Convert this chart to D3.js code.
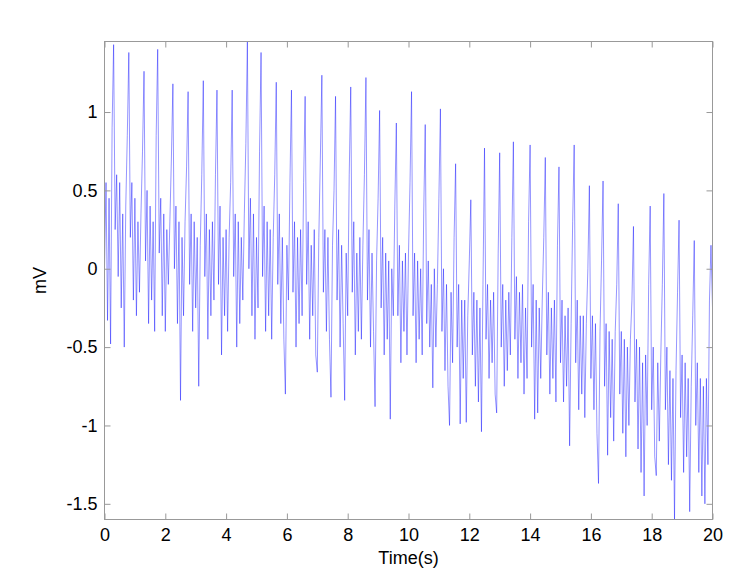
<!DOCTYPE html>
<html>
<head>
<meta charset="utf-8">
<script src="https://cdn.jsdelivr.net/npm/d3@7"></script>
<style>
  html, body { margin: 0; padding: 0; background: #fff; }
  svg { display: block; }
  text { font-family: "Liberation Sans", Arial, Helvetica, sans-serif; }
</style>
</head>
<body>
<div id="chart"></div>
<script>
// ---- data ----
const sampleInterval = 0.05; // seconds between samples
const mV = [
  0.0, 0.55, -0.33, 0.45, -0.48, 0.9, 1.43,
  0.25, 0.6, -0.05, 0.55, -0.25, 0.35, -0.5, 0.4, 0.85,
  1.38, 0.2, 0.55, -0.2, 0.45, -0.3, 0.3, -0.15, 0.35, 0.75,
  1.26, 0.05, 0.5, -0.35, 0.4, -0.2, 0.3, -0.4, 0.85,
  1.40, 0.1, 0.45, -0.3, 0.35, -0.4, 0.25, -0.1, 0.3, 0.7,
  1.18, 0.0, 0.4, -0.35, 0.3, -0.84, 0.2, -0.3, 0.3, 0.65,
  1.13, -0.1, 0.35, -0.4, 0.3, -0.25, 0.2, -0.75, 0.15, 0.6,
  1.20, -0.05, 0.35, -0.45, 0.25, -0.3, 0.3, -0.2, 0.6,
  1.14, -0.1, 0.4, -0.55, 0.2, -0.3, 0.25, -0.4, 0.2, 0.55,
  1.14, -0.05, 0.35, -0.5, 0.3, -0.35, 0.2, -0.2, 0.35, 0.8,
  1.45, 0.0, 0.45, -0.3, 0.35, -0.45, 0.2, -0.25, 0.75,
  1.38, -0.05, 0.4, -0.4, 0.3, -0.3, 0.25, -0.45, 0.2, 0.6,
  1.19, -0.1, 0.35, -0.35, 0.2, -0.45, -0.8, 0.15, -0.2, 0.55,
  1.14, -0.15, 0.3, -0.5, 0.2, -0.35, 0.25, -0.3, 0.55,
  1.10, -0.1, 0.3, -0.45, 0.15, -0.3, 0.25, -0.55, -0.66, 0.2, 0.7,
  1.235, -0.15, 0.25, -0.4, 0.2, -0.45, -0.82, 0.15, 0.5,
  1.10, -0.2, 0.25, -0.5, 0.15, -0.35, -0.84, 0.1, -0.3, 0.6,
  1.16, -0.15, 0.3, -0.55, 0.1, -0.4, 0.2, -0.45, 0.15, 0.6,
  1.22, -0.2, 0.25, -0.5, 0.1, -0.4, -0.88, 0.05, 0.45,
  1.01, -0.25, 0.2, -0.55, 0.1, -0.45, 0.05, -0.96, 0.0, -0.3, 0.4,
  0.93, -0.3, 0.15, -0.6, 0.05, -0.4, 0.1, -0.55, 0.1, 0.55,
  1.13, -0.3, 0.1, -0.6, 0.05, -0.45, 0.0, -0.55, 0.35,
  0.92, -0.35, 0.05, -0.5, -0.1, -0.76, 0.0, -0.5, -0.1, 0.45,
  1.02, -0.4, 0.0, -0.65, -0.1, -0.75, -1.0, -0.15, -0.6, 0.2,
  0.67, -0.5, -0.1, -0.99, -0.2, -0.7, -0.2, -0.98, -0.3, 0.05,
  0.44, -0.55, -0.15, -0.75, -0.2, -0.85, -0.25, -1.04, -0.1,
  0.77, -0.45, -0.1, -0.7, -0.2, -0.6, -0.15, -0.8, -0.92, 0.1,
  0.74, -0.5, -0.1, -0.75, -0.2, -0.65, -0.15, -0.55, 0.2,
  0.81, -0.45, -0.05, -0.7, -0.15, -0.6, -0.1, -0.8, -0.25, -0.7, 0.3,
  0.79, -0.5, -0.1, -0.96, -0.2, -0.92, -0.25, -0.7, -0.2, 0.2,
  0.71, -0.55, -0.15, -0.8, -0.25, -0.7, -0.2, -0.85, 0.15,
  0.65, -0.6, -0.2, -0.85, -0.3, -0.75, -0.25, -1.13, -0.35, 0.3,
  0.79, -0.6, -0.2, -0.9, -0.3, -0.8, -0.3, -0.95, -0.35, 0.0,
  0.53, -0.7, -0.3, -0.9, -0.35, -1.05, -1.37, -0.4, 0.05,
  0.56, -0.75, -0.35, -1.19, -0.4, -0.95, -0.45, -1.1, -0.4, -0.1,
  0.415, -0.8, -0.4, -1.05, -0.45, -1.2, -0.5, -1.0, -0.45, -0.2,
  0.27, -0.85, -0.45, -1.15, -0.5, -1.3, -0.6, -1.45, -0.55, -1.0, -0.1,
  0.40, -0.9, -0.5, -1.2, -1.32, -0.6, -1.1, -0.55, -0.1,
  0.48, -0.9, -0.5, -1.25, -0.65, -1.35, -0.7, -1.6, -0.65, -0.15,
  0.31, -0.95, -0.55, -1.3, -0.6, -1.2, -0.7, -1.55, -0.75, -0.3,
  0.18, -1.0, -0.6, -1.3, -0.7, -1.45, -0.75, -1.5, -0.7, -1.25, -0.2,
  0.15, -0.25
];
const xTicks = [0, 2, 4, 6, 8, 10, 12, 14, 16, 18, 20];
const yTicks = [-1.5, -1, -0.5, 0, 0.5, 1];
const yTickLabels = ["-1.5", "-1", "-0.5", "0", "0.5", "1"];
const xDomain = [0, 20];
const yDomain = [-1.6, 1.45];
const xLabel = "Time(s)";
const yLabel = "mV";

// ---- layout ----
const W = 741, H = 579;
const pL = 104.5, pR = 712.5, pT = 41.5, pB = 519.5;

const svg = d3.select("#chart").append("svg")
  .attr("width", W).attr("height", H);
svg.append("rect").attr("width", W).attr("height", H).attr("fill", "#fff");

const x = d3.scaleLinear().domain(xDomain).range([pL, pR]);
const y = d3.scaleLinear().domain(yDomain).range([pB, pT]);

const data = mV.map((v, i) => ({ t: i * sampleInterval, v }));

svg.append("clipPath").attr("id", "clip")
  .append("rect").attr("x", pL).attr("y", pT)
  .attr("width", pR - pL).attr("height", pB - pT);

svg.append("path")
  .datum(data)
  .attr("clip-path", "url(#clip)")
  .attr("fill", "none")
  .attr("stroke", "#0000ff")
  .attr("stroke-width", 0.42)
  .attr("stroke-linejoin", "miter")
  .attr("d", d3.line().x(d => x(d.t)).y(d => y(d.v)));

const axisColor = "#999";
const fontSize = 18;

function styleAxis(g, showLabels) {
  g.select(".domain").remove();
  g.selectAll(".tick line").attr("stroke", axisColor);
  g.selectAll(".tick text")
    .attr("fill", "#000")
    .style("font-size", fontSize + "px")
    .style("font-family", '"Liberation Sans", Arial, sans-serif');
  if (!showLabels) g.selectAll(".tick text").remove();
}

svg.append("g").attr("transform", `translate(0,${pB})`)
  .call(d3.axisBottom(x).tickValues(xTicks).tickFormat(d3.format("d"))
    .tickSizeInner(-6).tickSizeOuter(0).tickPadding(9))
  .call(g => styleAxis(g, true));
svg.append("g").attr("transform", `translate(0,${pT})`)
  .call(d3.axisTop(x).tickValues(xTicks).tickSizeInner(-6).tickSizeOuter(0))
  .call(g => styleAxis(g, false));
svg.append("g").attr("transform", `translate(${pL},0)`)
  .call(d3.axisLeft(y).tickValues(yTicks).tickFormat((d, i) => yTickLabels[i])
    .tickSizeInner(-6).tickSizeOuter(0).tickPadding(7))
  .call(g => styleAxis(g, true));
svg.append("g").attr("transform", `translate(${pR},0)`)
  .call(d3.axisRight(y).tickValues(yTicks).tickSizeInner(-6).tickSizeOuter(0))
  .call(g => styleAxis(g, false));

svg.append("rect")
  .attr("x", pL).attr("y", pT)
  .attr("width", pR - pL).attr("height", pB - pT)
  .attr("fill", "none").attr("stroke", axisColor).attr("stroke-width", 1);

svg.append("text")
  .attr("x", (pL + pR) / 2).attr("y", 564)
  .attr("text-anchor", "middle")
  .style("font-size", fontSize + "px")
  .text(xLabel);

svg.append("text")
  .attr("transform", `translate(46,${(pT + pB) / 2}) rotate(-90)`)
  .attr("text-anchor", "middle")
  .style("font-size", fontSize + "px")
  .text(yLabel);
</script>
</body>
</html>
